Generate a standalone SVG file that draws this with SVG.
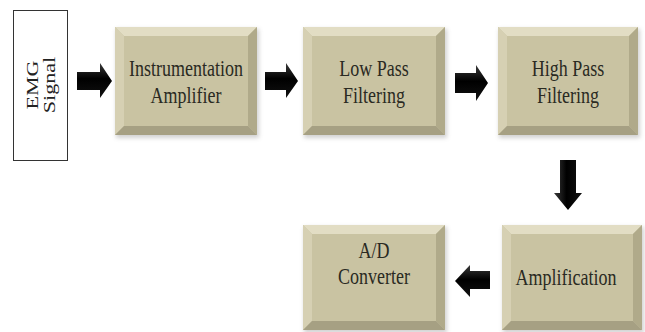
<svg xmlns="http://www.w3.org/2000/svg" width="645" height="332" viewBox="0 0 645 332">
<defs>
<filter id="sh" x="-10%" y="-10%" width="130%" height="130%"><feGaussianBlur stdDeviation="2"/></filter>
<linearGradient id="ag" x1="0" y1="0" x2="0" y2="1"><stop offset="0" stop-color="#3a3a3a"/><stop offset="0.45" stop-color="#000"/><stop offset="1" stop-color="#111"/></linearGradient>
<linearGradient id="agv" x1="0" y1="0" x2="1" y2="0"><stop offset="0" stop-color="#3a3a3a"/><stop offset="0.45" stop-color="#000"/><stop offset="1" stop-color="#111"/></linearGradient>
</defs>
<style>
.face{fill:#c9c3a2}
.bt{fill:#e2ddc4}
.bl{fill:#d6d0b3}
.br{fill:#b0aa8a}
.bb{fill:#a6a083}
.shd{fill:#999;opacity:0.45}
.t{font-family:"Liberation Serif","DejaVu Serif",serif;font-size:24px;fill:#2a2a22;text-anchor:middle}
.e{font-family:"Liberation Serif","DejaVu Serif",serif;font-size:17px;fill:#222;text-anchor:middle}
.arr{fill:url(#ag)}
.arrv{fill:url(#agv)}
</style>
<rect width="645" height="332" fill="#fff"/>

<g id="emg">
<rect x="13.5" y="10.5" width="54" height="150" fill="#fff" stroke="#333" stroke-width="1"/>
<text class="e" transform="translate(38,85) rotate(-90) scale(1.3,1)">EMG</text>
<text class="e" transform="translate(55,85) rotate(-90) scale(1.3,1)">Signal</text>
</g>

<g id="instr">
<rect class="shd" x="116" y="29" width="143" height="109" filter="url(#sh)"/>
<rect class="face" x="115" y="27" width="142" height="108"/>
<polygon class="bt" points="115,27 257,27 248,36 124,36"/>
<polygon class="bl" points="115,27 124,36 124,126 115,135"/>
<polygon class="br" points="257,27 257,135 248,126 248,36"/>
<polygon class="bb" points="115,135 124,126 248,126 257,135"/>
<text class="t" transform="translate(186,76) scale(0.75,1)">Instrumentation</text>
<text class="t" transform="translate(186,103) scale(0.75,1)">Amplifier</text>
</g>

<g id="lowpass">
<rect class="shd" x="304" y="29" width="143" height="109" filter="url(#sh)"/>
<rect class="face" x="303" y="27" width="142" height="108"/>
<polygon class="bt" points="303,27 445,27 436,36 312,36"/>
<polygon class="bl" points="303,27 312,36 312,126 303,135"/>
<polygon class="br" points="445,27 445,135 436,126 436,36"/>
<polygon class="bb" points="303,135 312,126 436,126 445,135"/>
<text class="t" transform="translate(374,76) scale(0.75,1)">Low Pass</text>
<text class="t" transform="translate(374,103) scale(0.75,1)">Filtering</text>
</g>

<g id="highpass">
<rect class="shd" x="499" y="29" width="141" height="109" filter="url(#sh)"/>
<rect class="face" x="498" y="27" width="140" height="108"/>
<polygon class="bt" points="498,27 638,27 629,36 507,36"/>
<polygon class="bl" points="498,27 507,36 507,126 498,135"/>
<polygon class="br" points="638,27 638,135 629,126 629,36"/>
<polygon class="bb" points="498,135 507,126 629,126 638,135"/>
<text class="t" transform="translate(568,76) scale(0.75,1)">High Pass</text>
<text class="t" transform="translate(568,103) scale(0.75,1)">Filtering</text>
</g>

<g id="amplification">
<rect class="shd" x="503" y="227" width="141" height="106" filter="url(#sh)"/>
<rect class="face" x="502" y="225" width="140" height="105"/>
<polygon class="bt" points="502,225 642,225 633,234 511,234"/>
<polygon class="bl" points="502,225 511,234 511,321 502,330"/>
<polygon class="br" points="642,225 642,330 633,321 633,234"/>
<polygon class="bb" points="502,330 511,321 633,321 642,330"/>
<text class="t" transform="translate(566,285) scale(0.75,1)">Amplification</text>
</g>

<g id="adc">
<rect class="shd" x="304" y="227" width="143" height="106" filter="url(#sh)"/>
<rect class="face" x="303" y="225" width="142" height="105"/>
<polygon class="bt" points="303,225 445,225 436,234 312,234"/>
<polygon class="bl" points="303,225 312,234 312,321 303,330"/>
<polygon class="br" points="445,225 445,330 436,321 436,234"/>
<polygon class="bb" points="303,330 312,321 436,321 445,330"/>
<text class="t" transform="translate(374,258) scale(0.75,1)">A/D</text>
<text class="t" transform="translate(374,284) scale(0.75,1)">Converter</text>
</g>

<g id="connectors">
<polygon class="arr" points="77,72 100,72 100,63 112,81 100,98 100,90 77,90"/>
<polygon class="arr" points="265,72 286,72 286,63 298,81 286,98 286,90 265,90"/>
<polygon class="arr" points="455,73 476,73 476,65 488,83 476,101 476,93 455,93"/>
<polygon class="arrv" points="560,160 576,160 576,193 582,193 568,210 554,193 560,193"/>
<polygon class="arr" points="490,271 470,271 470,265 455,281 470,297 470,289 490,289"/>
</g>
</svg>
